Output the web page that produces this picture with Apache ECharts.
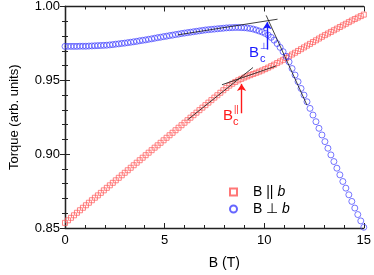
<!DOCTYPE html>
<html><head><meta charset="utf-8">
<script src="https://cdn.jsdelivr.net/npm/echarts@6/dist/echarts.min.js"></script>
<style>html,body{margin:0;padding:0;background:#fff}#c{width:374px;height:275px}</style>
</head><body><div id="c"></div>
<script>
// Field values (T)
const fieldB = [0,0.15,0.3,0.45,0.6,0.75,0.9,1.05,1.2,1.35,1.5,1.65,1.8,1.95,2.1,2.25,2.4,2.55,2.7,2.85,
3,3.15,3.3,3.45,3.6,3.75,3.9,4.05,4.2,4.35,4.5,4.65,4.8,4.95,5.1,5.25,5.4,5.55,5.7,5.85,
6,6.15,6.3,6.45,6.6,6.75,6.9,7.05,7.2,7.35,7.5,7.65,7.8,7.95,8.1,8.25,8.4,8.55,8.7,8.85,
9,9.15,9.3,9.45,9.6,9.75,9.9,10.05,10.2,10.35,10.5,10.65,10.8,10.95,11.1,11.25,11.4,11.55,11.7,11.85,
12,12.15,12.3,12.45,12.6,12.75,12.9,13.05,13.2,13.35,13.5,13.65,13.8,13.95,14.1,14.25,14.4,14.55,14.7,14.85,15];
// B || b torque
const torqueParallel = [0.8535,0.8552,0.8569,0.8586,0.8603,0.8620,0.8637,0.8654,0.8671,0.8688,0.8705,0.8721,0.8738,0.8755,0.8772,0.8789,0.8806,0.8823,0.8840,0.8857,
0.8874,0.8891,0.8908,0.8925,0.8942,0.8959,0.8976,0.8993,0.9010,0.9027,0.9044,0.9060,0.9077,0.9094,0.9111,0.9128,0.9145,0.9162,0.9179,0.9196,
0.9213,0.9230,0.9247,0.9264,0.9281,0.9298,0.9315,0.9332,0.9349,0.9366,0.9383,0.9399,0.9416,0.9433,0.9449,0.9464,0.9477,0.9489,0.9500,0.9510,
0.9519,0.9527,0.9535,0.9543,0.9551,0.9559,0.9567,0.9576,0.9586,0.9596,0.9606,0.9617,0.9628,0.9639,0.9651,0.9663,0.9675,0.9687,0.9699,0.9711,
0.9723,0.9735,0.9747,0.9759,0.9771,0.9783,0.9795,0.9806,0.9817,0.9828,0.9839,0.9850,0.9861,0.9872,0.9883,0.9894,0.9905,0.9915,0.9925,0.9935,0.9945];
// B ⊥ b torque
const torquePerp = [0.9730,0.9730,0.9730,0.9730,0.9730,0.9731,0.9731,0.9731,0.9732,0.9733,0.9734,0.9735,0.9736,0.9737,0.9738,0.9740,0.9742,0.9745,0.9747,0.9750,
0.9752,0.9755,0.9758,0.9761,0.9764,0.9768,0.9771,0.9774,0.9778,0.9781,0.9785,0.9789,0.9792,0.9796,0.9799,0.9803,0.9806,0.9810,0.9813,0.9817,
0.9820,0.9823,0.9826,0.9829,0.9832,0.9835,0.9838,0.9841,0.9843,0.9845,0.9847,0.9849,0.9851,0.9853,0.9855,0.9856,0.9857,0.9858,0.9858,0.9857,
0.9856,0.9854,0.9851,0.9847,0.9841,0.9834,0.9827,0.9818,0.9806,0.9791,0.9772,0.9749,0.9723,0.9694,0.9662,0.9625,0.9580,0.9536,0.9491,0.9445,
0.9400,0.9355,0.9310,0.9265,0.9220,0.9175,0.9130,0.9085,0.9040,0.8995,0.8950,0.8905,0.8860,0.8815,0.8770,0.8725,0.8680,0.8635,0.8591,0.8548,0.8505];
// Tangent guide lines [[B,T],[B,T]]
const tangentPerpLow = [[5.66,0.9808],[10.67,0.9914]];
const tangentPerpHigh = [[10.1,0.994],[12.15,0.9332]];
const tangentParLow = [[6.15,0.9232],[9.44,0.9587]];
const tangentParHigh = [[7.88,0.947],[10.59,0.9597]];
// Arrows [from, to]
const arrowPerp = [[10.15,0.9708],[10.15,0.9894]];
const arrowPar = [[8.865,0.9277],[8.865,0.9476]];
// Axis ticks
const xTicks = {min:0,max:15,interval:5};
const yTicks = {min:0.85,max:1.00,interval:0.05};
const seriesNames = ['B || b','B \u22A5 b'];

const RED = '#ff5555', BLUE = '#4040ff';
const chart = echarts.init(document.getElementById('c'));
const axisLine = {show:true,lineStyle:{color:'#222',width:1.3}};
const font = 'Arial, "Liberation Sans", sans-serif';
function zip(a,b){return a.map((v,i)=>[v,b[i]]);}
function guide(d){return {type:'line',data:d,symbol:'none',silent:true,z:5,lineStyle:{color:'#111',width:0.8},xAxisIndex:0,yAxisIndex:0};}

chart.setOption({
  animation:false,
  grid:{left:62,right:9,top:6,bottom:43},
  xAxis:[{type:'value',min:xTicks.min,max:xTicks.max,interval:xTicks.interval,
    name:'B (T)',nameLocation:'middle',nameGap:28,
    nameTextStyle:{fontFamily:font,fontSize:14,color:'#000',padding:[0,0,0,20]},
    axisLine:axisLine,axisTick:{inside:true,length:5,lineStyle:{color:'#222'}},
    minorTick:{show:true,splitNumber:5,length:3,lineStyle:{color:'#222'}},
    axisLabel:{fontFamily:font,fontSize:13,color:'#000',margin:6},splitLine:{show:false}},
   {type:'value',position:'top',min:xTicks.min,max:xTicks.max,interval:xTicks.interval,
    axisLine:axisLine,axisTick:{inside:true,length:5,lineStyle:{color:'#222'}},
    minorTick:{show:true,splitNumber:5,length:3,lineStyle:{color:'#222'}},
    axisLabel:{show:false},splitLine:{show:false}}],
  yAxis:[{type:'value',min:yTicks.min,max:yTicks.max,interval:yTicks.interval,
    name:'Torque (arb. units)',nameLocation:'middle',nameGap:44,
    nameTextStyle:{fontFamily:font,fontSize:13,color:'#000'},
    axisLine:axisLine,axisTick:{inside:true,length:5,lineStyle:{color:'#222'}},
    minorTick:{show:true,splitNumber:5,length:3,lineStyle:{color:'#222'}},
    axisLabel:{fontFamily:font,fontSize:13,color:'#000',margin:5,formatter:v=>v.toFixed(2)},splitLine:{show:false}},
   {type:'value',position:'right',min:yTicks.min,max:yTicks.max,interval:yTicks.interval,
    axisLine:axisLine,axisTick:{inside:true,length:5,lineStyle:{color:'#222'}},
    minorTick:{show:true,splitNumber:5,length:3,lineStyle:{color:'#222'}},
    axisLabel:{show:false},splitLine:{show:false}}],
  legend:{orient:'vertical',left:224,top:180,itemWidth:7,itemHeight:7,itemGap:3,
    data:seriesNames,
    textStyle:{fontFamily:font,fontSize:14,color:'#000',padding:[0,0,0,11],
      rich:{i:{fontStyle:'italic',fontFamily:font,fontSize:14,color:'#000'}}},
    formatter:n=>n.slice(0,-1)+'{i|b}'},
  series:[
    {name:seriesNames[0],type:'scatter',data:zip(fieldB,torqueParallel),symbol:'rect',symbolSize:5,
      itemStyle:{color:'rgba(0,0,0,0)',borderColor:RED,borderWidth:0.9},z:2},
    {name:seriesNames[1],type:'scatter',data:zip(fieldB,torquePerp),symbol:'circle',symbolSize:6,
      itemStyle:{color:'rgba(0,0,0,0)',borderColor:BLUE,borderWidth:0.9},z:2},
    guide(tangentPerpLow),guide(tangentPerpHigh),guide(tangentParLow),
    Object.assign(guide(tangentParHigh),{markLine:{silent:true,symbol:['none','arrow'],symbolSize:7,label:{show:false},
      data:[
        [{coord:arrowPerp[0],lineStyle:{color:'#1a1aff',width:1.4,type:'solid'},itemStyle:{color:'#1a1aff'}},{coord:arrowPerp[1]}],
        [{coord:arrowPar[0],lineStyle:{color:'#ff1a1a',width:1.4,type:'solid'},itemStyle:{color:'#ff1a1a'}},{coord:arrowPar[1]}]
      ]}})
  ],
  graphic:[
    {type:'text',left:249,top:45,style:{text:'B',font:'15px '+font,fill:'#1a1aff'}},
    {type:'text',left:260,top:42,style:{text:'\u22A5',font:'9px '+font,fill:'#1a1aff'}},
    {type:'text',left:260,top:53,style:{text:'c',font:'11px '+font,fill:'#1a1aff'}},
    {type:'text',left:223,top:108,style:{text:'B',font:'15px '+font,fill:'#ff1a1a'}},
    {type:'text',left:234,top:105,style:{text:'||',font:'9px '+font,fill:'#ff1a1a'}},
    {type:'text',left:233,top:116,style:{text:'c',font:'11px '+font,fill:'#ff1a1a'}}
  ]
});
</script></body></html>
